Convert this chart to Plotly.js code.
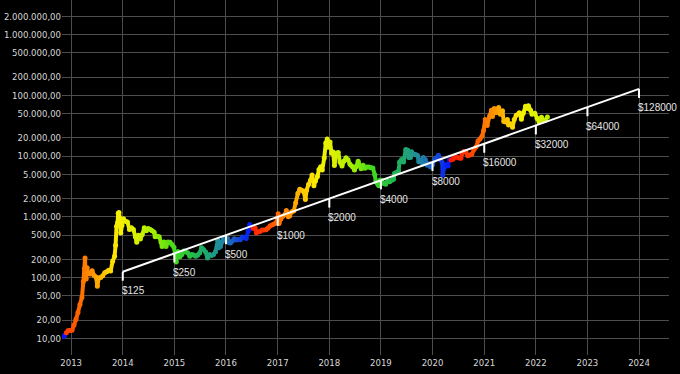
<!DOCTYPE html>
<html><head><meta charset="utf-8">
<script src="https://cdn.plot.ly/plotly-3.0.1.min.js"></script>
<style>html,body{margin:0;padding:0;background:#000;}#chart{width:680px;height:374px;}</style>
</head><body><div id="chart"></div>
<script>
const dates = ['2012-11-01','2012-11-15','2012-11-28','2012-12-10','2012-12-24','2013-01-07','2013-01-21','2013-02-04','2013-02-18','2013-03-04','2013-03-18','2013-03-28','2013-04-04','2013-04-09','2013-04-12','2013-04-17','2013-04-24','2013-05-01','2013-05-15','2013-05-29','2013-06-12','2013-06-26','2013-07-05','2013-07-15','2013-07-29','2013-08-12','2013-08-26','2013-09-09','2013-09-23','2013-10-07','2013-10-21','2013-11-04','2013-11-11','2013-11-18','2013-11-25','2013-11-30','2013-12-05','2013-12-10','2013-12-18','2013-12-26','2014-01-06','2014-01-20','2014-02-03','2014-02-17','2014-03-03','2014-03-17','2014-03-31','2014-04-10','2014-04-21','2014-05-05','2014-05-19','2014-06-02','2014-06-16','2014-06-30','2014-07-14','2014-07-28','2014-08-11','2014-08-18','2014-09-01','2014-09-15','2014-09-29','2014-10-06','2014-10-20','2014-11-03','2014-11-17','2014-12-01','2014-12-15','2014-12-29','2015-01-14','2015-01-26','2015-02-09','2015-02-23','2015-03-09','2015-03-23','2015-04-06','2015-04-20','2015-05-04','2015-05-18','2015-06-01','2015-06-15','2015-06-29','2015-07-12','2015-07-26','2015-08-09','2015-08-24','2015-09-07','2015-09-21','2015-10-05','2015-10-19','2015-11-04','2015-11-11','2015-11-23','2015-12-07','2015-12-16','2015-12-28','2016-01-11','2016-01-18','2016-02-01','2016-02-15','2016-02-29','2016-03-14','2016-03-28','2016-04-11','2016-04-25','2016-05-09','2016-05-23','2016-06-06','2016-06-17','2016-06-27','2016-07-11','2016-07-25','2016-08-02','2016-08-15','2016-08-29','2016-09-12','2016-09-26','2016-10-10','2016-10-24','2016-11-07','2016-11-21','2016-12-05','2016-12-19','2016-12-30','2017-01-04','2017-01-11','2017-01-23','2017-02-06','2017-02-20','2017-03-03','2017-03-17','2017-03-27','2017-04-10','2017-04-24','2017-05-08','2017-05-24','2017-06-06','2017-06-20','2017-07-04','2017-07-16','2017-07-24','2017-08-07','2017-08-21','2017-09-01','2017-09-14','2017-09-25','2017-10-09','2017-10-20','2017-11-01','2017-11-12','2017-11-26','2017-12-07','2017-12-17','2017-12-22','2018-01-06','2018-01-17','2018-01-28','2018-02-06','2018-02-20','2018-03-05','2018-03-18','2018-04-01','2018-04-15','2018-04-29','2018-05-13','2018-05-27','2018-06-10','2018-06-28','2018-07-09','2018-07-24','2018-08-07','2018-08-14','2018-08-28','2018-09-10','2018-09-24','2018-10-08','2018-10-22','2018-11-05','2018-11-19','2018-11-26','2018-12-10','2018-12-17','2018-12-24','2019-01-07','2019-01-21','2019-02-04','2019-02-18','2019-03-04','2019-03-18','2019-04-01','2019-04-08','2019-04-22','2019-05-06','2019-05-13','2019-05-27','2019-06-10','2019-06-26','2019-07-10','2019-07-17','2019-07-29','2019-08-06','2019-08-20','2019-09-03','2019-09-17','2019-09-26','2019-10-10','2019-10-24','2019-10-28','2019-11-11','2019-11-25','2019-12-09','2019-12-18','2020-01-01','2020-01-15','2020-01-29','2020-02-12','2020-02-26','2020-03-09','2020-03-13','2020-03-23','2020-04-06','2020-04-20','2020-04-30','2020-05-11','2020-05-25','2020-06-08','2020-06-22','2020-07-06','2020-07-20','2020-07-28','2020-08-10','2020-08-24','2020-09-07','2020-09-21','2020-10-05','2020-10-21','2020-11-04','2020-11-18','2020-12-02','2020-12-16','2020-12-27','2021-01-08','2021-01-22','2021-02-08','2021-02-21','2021-02-28','2021-03-13','2021-03-25','2021-04-13','2021-04-25','2021-05-10','2021-05-19','2021-06-01','2021-06-14','2021-06-22','2021-07-05','2021-07-20','2021-08-01','2021-08-15','2021-09-06','2021-09-21','2021-10-05','2021-10-20','2021-11-01','2021-11-09','2021-11-25','2021-12-05','2021-12-25','2022-01-10','2022-01-24','2022-02-10','2022-02-24','2022-03-10','2022-03-24'];
const prices = [10.6,11.0,12.4,13.4,13.4,13.6,16.5,20.5,26.5,36,47,86,140,210,120,95,145,117,115,130,108,102,72,98,100,107,120,125,132,128,185,225,340,700,800,1150,1180,960,540,720,930,850,820,620,660,620,470,380,500,430,510,660,590,640,620,590,560,470,480,470,380,325,385,325,385,380,350,315,180,270,220,240,275,265,255,225,240,235,225,235,255,310,290,265,210,240,230,240,265,410,310,325,395,455,425,445,380,370,400,435,415,425,420,465,460,440,580,750,650,650,655,540,570,575,610,605,615,650,705,735,765,790,960,1130,780,920,1025,1080,1270,1000,1040,1210,1250,1700,2450,2850,2750,2600,1930,2750,3400,4000,4900,3250,3900,4600,6000,6700,5900,9300,16500,19100,14000,17100,11200,11700,7000,11200,11500,7900,6900,8300,9400,8700,7350,6800,5900,6700,8200,6900,6200,7100,6300,6600,6600,6450,6400,4900,3800,3450,3250,4000,4000,3550,3450,3900,3800,4000,4150,5200,5400,5700,8000,8800,8000,12900,12500,9500,9500,11800,10800,10600,10200,8100,8600,7400,9500,8800,7100,7500,6600,7200,8800,9400,10300,8800,7900,4900,6400,7200,6900,8700,8600,8900,9700,9600,9300,9200,11000,11900,11700,10100,10400,10700,12900,14100,17800,19200,21300,26300,40000,32000,46000,57000,45000,61000,52000,63500,49000,56000,37000,36500,40000,32500,34000,29800,40000,47000,51700,40500,51500,66000,61000,67500,57000,49000,50800,41800,36500,43500,38300,39400,44000];

const halvings = ['2009-01-03','2012-11-28','2016-07-09','2020-05-11','2024-04-20'];

const lineDates = ['2014-01-01','2015-01-01','2016-01-01','2017-01-01','2018-01-01','2019-01-01','2020-01-01','2021-01-01','2022-01-01','2023-01-01','2024-01-01'];
const lineValues = [125,250,500,1000,2000,4000,8000,16000,32000,64000,128000];
const lineLabels = ['$125','$250','$500','$1000','$2000','$4000','$8000','$16000','$32000','$64000','$128000'];

const yTickVals = [10,20,50,100,200,500,1000,2000,5000,10000,20000,50000,100000,200000,500000,1000000,2000000];
const xTickDates = ['2013-01-01','2014-01-01','2015-01-01','2016-01-01','2017-01-01','2018-01-01','2019-01-01','2020-01-01','2021-01-01','2022-01-01','2023-01-01','2024-01-01'];

// colour = years until next halving, 0 (blue) .. 4 (red)
const stops = [
  [0.000,'#0010ff'],[0.075,'#1850d0'],[0.140,'#2080a8'],[0.200,'#20a080'],[0.275,'#20b850'],
  [0.375,'#40d820'],[0.475,'#a0f000'],[0.560,'#d8f000'],[0.650,'#f8f000'],[0.712,'#ffc800'],
  [0.775,'#ff9600'],[0.838,'#ff6a00'],[0.900,'#ff3c00'],[1.000,'#ff1000']];
const YEAR_MS = 365.25*24*3600*1000;

function yearsToHalving(d){
  const t = new Date(d).getTime();
  for (let i=0;i<halvings.length;i++){
    const b = new Date(halvings[i]).getTime();
    if (t<b) return Math.min(4,(b-t)/YEAR_MS);
  }
  return 0;
}
function hex2rgb(h){return [parseInt(h.substr(1,2),16),parseInt(h.substr(3,2),16),parseInt(h.substr(5,2),16)];}
function colorAt(f){
  for (let i=0;i<stops.length-1;i++){
    const [f0,c0]=stops[i],[f1,c1]=stops[i+1];
    if (f>=f0 && f<=f1){
      const u=(f-f0)/(f1-f0), a=hex2rgb(c0), b=hex2rgb(c1);
      return 'rgb('+a.map((v,k)=>Math.round(v+(b[k]-v)*u)).join(',')+')';
    }
  }
  return stops[stops.length-1][1];
}

const fracs = dates.map(d=>yearsToHalving(d)/4);
const traces = [];
for (let i=0;i<dates.length-1;i++){
  const jump = Math.abs(fracs[i+1]-fracs[i])>0.5;
  traces.push({x:[dates[i],dates[i+1]], y:[prices[i],prices[i+1]], type:'scatter', mode:'lines',
    line:{color:colorAt(jump?fracs[i+1]:(fracs[i]+fracs[i+1])/2), width:4}, hoverinfo:'skip', showlegend:false});
}
traces.push({x:dates, y:prices, type:'scatter', mode:'markers',
  marker:{size:5, color:fracs, colorscale:stops, cmin:0, cmax:1, showscale:false}, showlegend:false});

traces.push({x:lineDates, y:lineValues, type:'scatter', mode:'lines',
  line:{color:'#ffffff', width:2}, showlegend:false,
  error_y:{type:'data', symmetric:false, array:lineValues.map(()=>0),
    arrayminus:lineValues.map(v=>v*0.29), width:0, thickness:2, color:'#ffffff'}});

const annotations = lineDates.map((d,i)=>({x:d, y:Math.log10(lineValues[i]), text:lineLabels[i],
  showarrow:false, xanchor:'left', yanchor:'middle', xshift:-3, yshift:-19,
  font:{family:'Liberation Sans, Arial, sans-serif', size:10, color:'#e6e6e6'}}));

const tickFont = {family:'DejaVu Sans Condensed, DejaVu Sans, sans-serif', size:9.5, color:'#d8d8d8'};
const layout = {
  width:680, height:374, paper_bgcolor:'#000', plot_bgcolor:'#000',
  margin:{l:62, r:11, t:0, b:19}, separators:',.', showlegend:false,
  annotations:annotations,
  xaxis:{type:'date', range:['2012-10-28','2024-07-31'], tickvals:xTickDates, tickformat:'%Y',
    gridcolor:'#4d4d4d', gridwidth:1, zeroline:false, showline:false, ticks:'', tickfont:tickFont},
  yaxis:{type:'log', range:[0.725,6.571], tickvals:yTickVals, tickformat:',.2f',
    gridcolor:'#4d4d4d', gridwidth:1, zeroline:false, showline:false, ticks:'', tickfont:tickFont}
};
Plotly.newPlot('chart', traces, layout, {staticPlot:true, displayModeBar:false});
</script></body></html>
